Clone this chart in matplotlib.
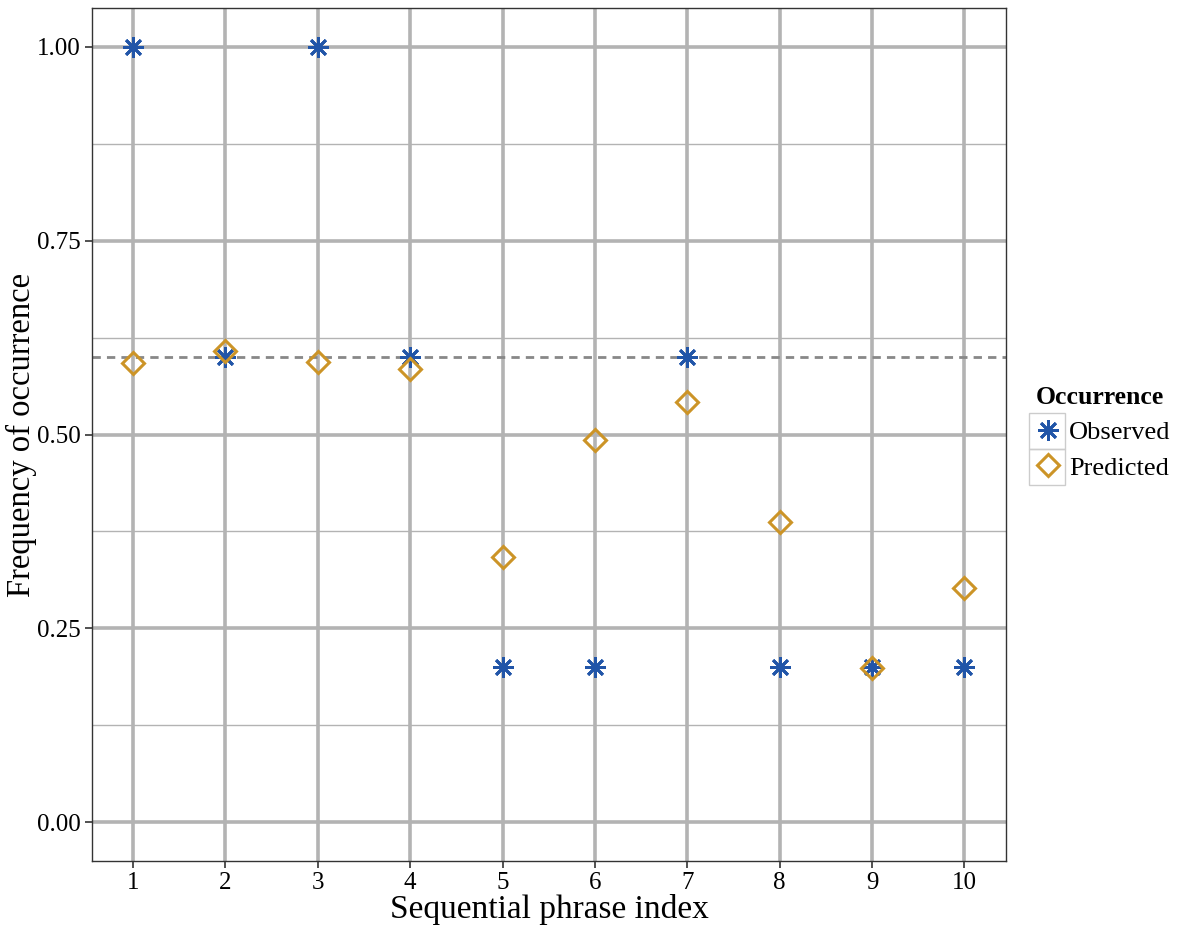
import matplotlib.pyplot as plt
import numpy as np
from matplotlib.lines import Line2D
from matplotlib.patches import Rectangle
from matplotlib.ticker import MultipleLocator

phrase_index = np.arange(1, 11)
observed = [1.0, 0.6, 1.0, 0.6, 0.2, 0.2, 0.6, 0.2, 0.2, 0.2]
predicted = [0.592, 0.608, 0.594, 0.585, 0.342, 0.493, 0.542, 0.387, 0.199, 0.302]
reference_level = 0.6
y_ticks = [0.0, 0.25, 0.5, 0.75, 1.0]

blue = '#2155a8'
gold = '#cc9427'
grid_col = '#b3b3b3'

plt.rcParams['font.family'] = ['Liberation Serif', 'DejaVu Serif']

fig = plt.figure(figsize=(11.81, 9.25), dpi=100)
ax = fig.add_axes([92 / 1181, 1 - 861 / 925, (1006 - 92) / 1181, (861 - 8) / 925])

# grid: thick major lines, thin minor lines between y ticks
ax.set_xticks(phrase_index)
ax.set_yticks(y_ticks)
ax.yaxis.set_minor_locator(MultipleLocator(0.125))
ax.grid(True, which='major', color=grid_col, linewidth=2.6)
ax.grid(True, which='minor', axis='y', color=grid_col, linewidth=1.0)
ax.tick_params(which='minor', left=False)
ax.set_axisbelow(True)

ax.axhline(reference_level, color='#888888', linestyle=(0, (3, 2.2)), linewidth=2.0, zorder=2)

star = dict(linestyle='none', marker=(8, 2, 0), markersize=15, markeredgewidth=2.0, color=blue)
diamond = dict(linestyle='none', marker='D', markersize=11, markerfacecolor='none',
               markeredgewidth=2.2, markeredgecolor=gold)

ax.plot(phrase_index, observed, zorder=3, **star)
ax.plot(phrase_index, predicted, zorder=4, **diamond)

ax.set_xlim(0.555, 10.45)
ax.set_ylim(-0.05, 1.05)
ax.set_yticklabels(['0.00', '0.25', '0.50', '0.75', '1.00'])
ax.tick_params(which='major', labelsize=18, length=5, width=1.2, color='#333333', pad=3)
for s in ax.spines.values():
    s.set_color('#333333')
    s.set_linewidth(1.0)

ax.set_xlabel('Sequential phrase index', fontsize=24, labelpad=0)
ax.set_ylabel('Frequency of occurrence', fontsize=23.5, labelpad=0)

# legend
handles = [Line2D([], [], **star), Line2D([], [], **diamond)]
leg = fig.legend(handles, ['Observed', 'Predicted'], title='Occurrence',
                 loc='upper left', bbox_to_anchor=(1020 / 1181, 1 - 370 / 925),
                 frameon=False, fontsize=19, title_fontsize=18.5,
                 handlelength=0.9, handletextpad=0.35, labelspacing=0.45,
                 borderpad=0.1, alignment='left')
leg.get_title().set_fontweight('bold')

# grey key boxes round each legend symbol
for y0 in (413, 449):
    fig.patches.append(Rectangle((1029 / 1181, 1 - (y0 + 36) / 925), 36 / 1181, 36 / 925,
                                 transform=fig.transFigure, facecolor='none',
                                 edgecolor='#cccccc', linewidth=1.0, zorder=0))

fig.savefig('out.png', dpi=100)
